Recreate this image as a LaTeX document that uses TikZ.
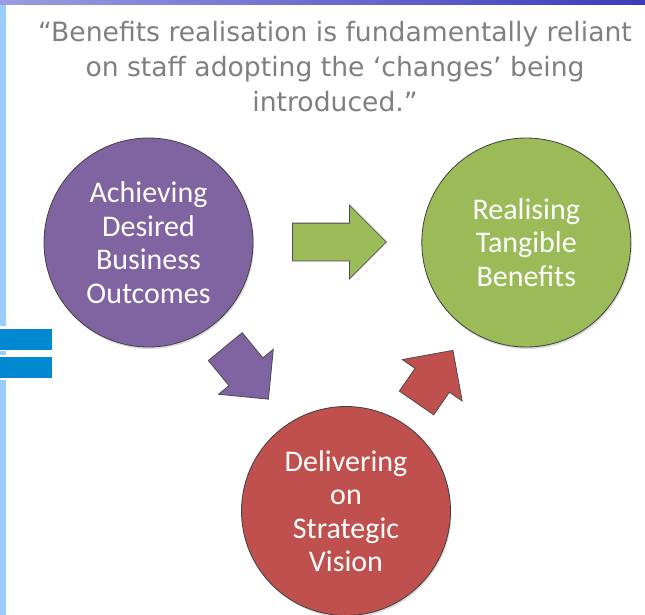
\documentclass[tikz,border=0pt]{standalone}
\usepackage{fontspec}
\setmainfont{Carlito}
\newfontfamily\quotefont{DejaVu Sans}
\usetikzlibrary{positioning,shapes.arrows,shadows}

\definecolor{bizpurple}{HTML}{8064A2}
\definecolor{bizgreen}{HTML}{9BBB59}
\definecolor{bizred}{HTML}{C0504D}
\definecolor{stripblue}{HTML}{99CCFF}
\definecolor{barblue}{HTML}{0088D0}
\definecolor{bandleft}{HTML}{9C9CE2}
\definecolor{bandright}{HTML}{3B3BBE}
\definecolor{quotegrey}{HTML}{7F7F7F}

\tikzset{
  goal/.style={circle, minimum size=209pt, inner sep=0pt, draw=black!75, line width=0.8pt,
    text=white, align=center, font=\fontsize{30}{33.5}\selectfont,
    drop shadow={opacity=0.3, shadow xshift=1pt, shadow yshift=-2pt}},
  flow/.style={single arrow, draw=black!70, line width=0.8pt, inner xsep=0pt,
    single arrow tip angle=90, anchor=tail},
}

\begin{document}
\begin{tikzpicture}[x=1pt,y=-1pt]
  \useasboundingbox (0,0) rectangle (645,615);
  % page decoration
  \fill[stripblue] (0,0) rectangle (6,326);
  \fill[stripblue] (0,351) rectangle (6,355);
  \fill[stripblue] (0,380) rectangle (6,615);
  \shade[left color=bandleft, right color=bandright] (0,0) rectangle (645,4.5);
  \fill[barblue] (0,329) rectangle (51.5,350);
  \fill[barblue] (0,357) rectangle (51.5,378);

  \node[text=quotegrey, align=center, font=\quotefont\fontsize{26.6}{35}\selectfont]
    (quote) at (335,67) {“Benefits realisation is fundamentally reliant\\
    on staff adopting the ‘changes’ being\\ introduced.”};

  \node[goal, fill=bizpurple] (outcomes) at (148.5,242.5) {Achieving\\Desired\\Business\\Outcomes};
  \node[goal, fill=bizgreen, right=168pt of outcomes] (benefits) {Realising\\Tangible\\Benefits};
  \node[goal, fill=bizred] (vision) at (346,511) {Delivering\\on\\Strategic\\Vision};

  \node[flow, fill=bizgreen, minimum height=94pt, inner ysep=18.5pt,
    single arrow head extend=18pt] (ob) at (292,242) {};
  \node[flow, fill=bizpurple, minimum height=68pt, inner ysep=21.5pt,
    single arrow head extend=13.5pt, rotate=-50.6] (ov) at (225,346.3) {};
  \node[flow, fill=bizred, minimum height=64pt, inner ysep=20.5pt,
    single arrow head extend=15.5pt, rotate=55.3] (vb) at (416.3,403.3) {};
\end{tikzpicture}
\end{document}
